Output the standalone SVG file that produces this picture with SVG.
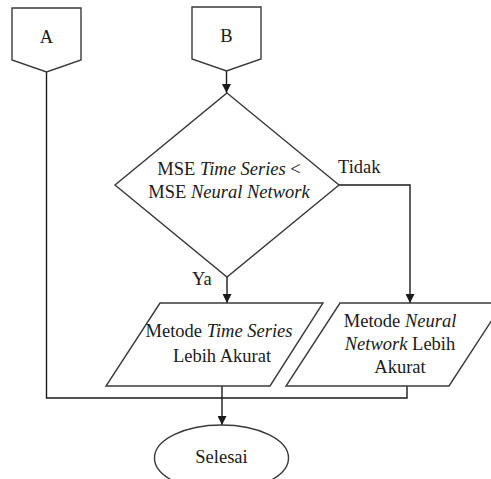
<svg xmlns="http://www.w3.org/2000/svg" width="491" height="479" viewBox="0 0 491 479">
  <style>
    .shape { fill: #ffffff; stroke: #3a3a3a; stroke-width: 1.4; }
    .conn { fill: none; stroke: #1a1a1a; stroke-width: 1.4; }
    text { font-family: "Liberation Serif", "Times New Roman", serif; font-size: 18.5px; fill: #1a1a1a; }
    .c { text-anchor: middle; }
    .i { font-style: italic; }
  </style>
  <defs>
    <marker id="arrow" viewBox="0 0 10 10" refX="10" refY="5" markerWidth="9" markerHeight="9" markerUnits="userSpaceOnUse" orient="auto">
      <path d="M0,0 L10,5 L0,10 z" fill="#1a1a1a"/>
    </marker>
  </defs>
  <rect width="491" height="479" fill="#ffffff"/>

  <!-- connectors -->
  <g id="connectors">
    <path class="conn" d="M46.5,72 V398 H407 V386"/>
    <path class="conn" d="M222,386 V398"/>
    <path class="conn" d="M222,398 V425" marker-end="url(#arrow)"/>
    <path class="conn" d="M226.5,71 V93" marker-end="url(#arrow)"/>
    <path class="conn" d="M227,277 V303" marker-end="url(#arrow)"/>
    <path class="conn" d="M339,185 H410 V303" marker-end="url(#arrow)"/>
    <text x="192" y="285">Ya</text>
    <text x="338" y="173">Tidak</text>
  </g>

  <!-- off-page connector A -->
  <g id="connector-a">
    <path class="shape" d="M12,8 H81 V60 L46.5,72 L12,60 Z"/>
    <text class="c" x="46.5" y="43">A</text>
  </g>

  <!-- off-page connector B -->
  <g id="connector-b">
    <path class="shape" d="M192,7 H261 V59 L226.5,71 L192,59 Z"/>
    <text class="c" x="226.5" y="42">B</text>
  </g>

  <!-- decision -->
  <g id="decision">
    <path class="shape" d="M227,93 L339,185 L227,277 L115,185 Z"/>
    <text class="c" x="229" y="175">MSE <tspan class="i">Time Series</tspan> &lt;</text>
    <text class="c" x="229" y="198">MSE <tspan class="i">Neural Network</tspan></text>
  </g>

  <!-- result: time series -->
  <g id="result-time-series">
    <path class="shape" d="M160,303 H323 L270,386 H106 Z"/>
    <text class="c" x="219" y="337">Metode <tspan class="i">Time Series</tspan></text>
    <text class="c" x="222" y="362">Lebih Akurat</text>
  </g>

  <!-- result: neural network -->
  <g id="result-neural-network">
    <path class="shape" d="M340,303 H503 L449,386 H286 Z"/>
    <text class="c" x="400" y="327">Metode <tspan class="i">Neural</tspan></text>
    <text class="c" x="400" y="350"><tspan class="i">Network</tspan> Lebih</text>
    <text class="c" x="400" y="373">Akurat</text>
  </g>

  <!-- terminator -->
  <g id="end">
    <ellipse class="shape" cx="221.5" cy="458" rx="67" ry="33"/>
    <text class="c" x="221.5" y="463">Selesai</text>
  </g>
</svg>
